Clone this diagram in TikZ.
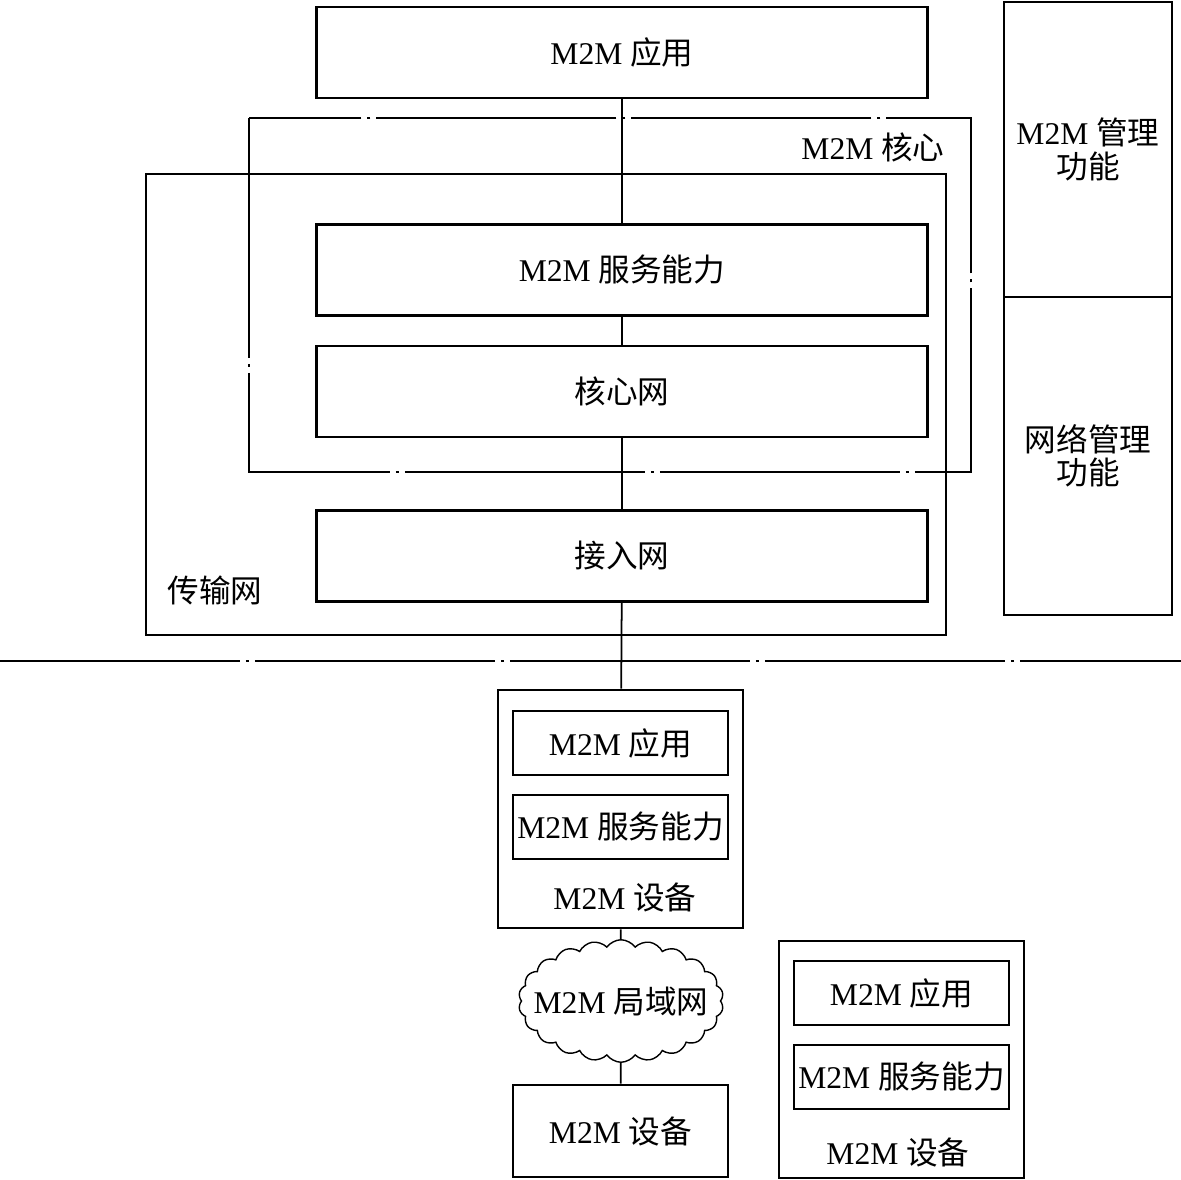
\documentclass[tikz,border=0pt]{standalone}
\usepackage{fontspec}
\setmainfont{Liberation Serif}
\newfontfamily\cjk{Noto Sans CJK SC}
\usetikzlibrary{shapes.symbols}
\newcommand\zh[1]{{\cjk #1}}

\tikzset{
  box/.style={draw,line width=1.6pt,minimum width=12.22cm,minimum height=1.82cm,inner sep=0pt},
  smallbox/.style={draw,line width=1.6pt,minimum width=4.3cm,minimum height=1.28cm,inner sep=0pt},
  devbox/.style={draw,line width=1.6pt,minimum width=4.9cm,minimum height=4.76cm,inner sep=0pt},
  mgmt/.style={draw,line width=1.6pt,minimum width=3.36cm,inner sep=0pt,align=center},
  dashdot/.style={line width=0.8pt,dash pattern=on 4.8cm off 0.12cm on 0.06cm off 0.12cm},
  link/.style={line width=1pt},
}

\begin{document}
\begin{tikzpicture}[x=0.02cm,y=-0.02cm,font=\fontsize{18pt}{19pt}\selectfont]
    \useasboundingbox (0,0) rectangle (1181,1180);
    % network domain
    \draw[dashdot] (249,118) rectangle (971,472);
    \draw[line width=1.6pt] (146,174) rectangle (946,635);
    \node at (873,147) {M2M \zh{核心}};
    \node at (215,590) {\zh{传输网}};
    \node[box] (app) at (622,52.5) {M2M \zh{应用}};
    \node[box] (svc) at (622,270) {M2M \zh{服务能力}};
    \node[box] (corenet) at (622,391.5) {\zh{核心网}};
    \node[box] (access) at (622,556) {\zh{接入网}};
    % management column
    \node[mgmt,minimum height=5.9cm] (m2mmgmt) at (1088,149.5) {M2M \zh{管理}\\\zh{功能}};
    \node[mgmt,minimum height=6.36cm] (netmgmt) at (1088,456) {\zh{网络管理}\\\zh{功能}};
    % domain border
    \draw[dashdot,line width=1pt] (0,661) -- (1181,661);
    % device domain
    \node[devbox] (dev) at (620.5,809) {};
    \node[smallbox] (devapp) at (620.5,743) {M2M \zh{应用}};
    \node[smallbox] (devsvc) at (620.5,827) {M2M \zh{服务能力}};
    \node (devlabel) at (625,897) {M2M \zh{设备}};
    \node[cloud,draw,line width=0.8pt,cloud puffs=22,cloud puff arc=110,minimum width=4.1cm,minimum height=2.45cm,inner sep=0pt] (lan) at (621,1001) {};
    \node (lantext) at (621,1001) {M2M \zh{局域网}};
    \node[smallbox,minimum height=1.84cm] (dev2) at (620.5,1131) {M2M \zh{设备}};
    \node[devbox,minimum height=4.74cm] (dev3) at (901.5,1059.5) {};
    \node[smallbox] (dev3app) at (901.5,993) {M2M \zh{应用}};
    \node[smallbox] (dev3svc) at (901.5,1077) {M2M \zh{服务能力}};
    \node (dev3label) at (898,1152) {M2M \zh{设备}};
    % connectors
    \draw[link] (app) -- (svc);
    \draw[link] (svc) -- (corenet);
    \draw[link] (corenet) -- (access);
    \draw[link] (access) -- (dev);
    \draw[link] (dev) -- (lan);
    \draw[link] (lan) -- (dev2);
\end{tikzpicture}
\end{document}
